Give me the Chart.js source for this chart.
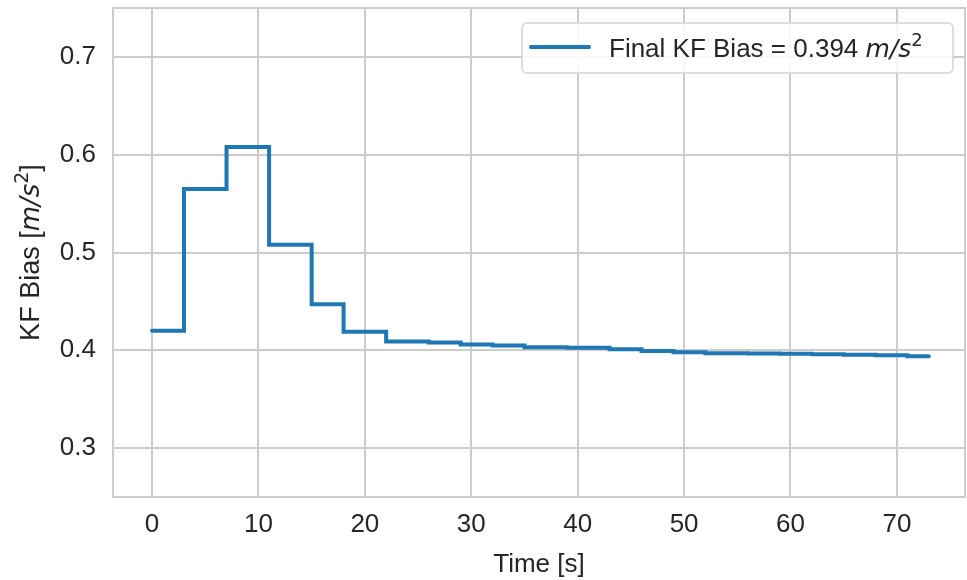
<!DOCTYPE html>
<html>
<head>
<meta charset="utf-8">
<script src="https://cdn.jsdelivr.net/npm/chart.js@4.4.1/dist/chart.umd.min.js"></script>
<style>
  html, body { margin: 0; padding: 0; background: #ffffff; }
  #wrap { width: 967px; height: 580px; position: relative; }
</style>
</head>
<body>
<div id="wrap"><canvas id="biasChart" width="967" height="580"></canvas></div>
<script>
// ---- data ----
const times = [0, 3, 7, 11, 15, 18, 22, 26, 29, 32, 35, 39, 43, 46, 49, 52, 56, 59, 62, 65, 68, 71, 73];
const bias  = [0.420, 0.565, 0.608, 0.508, 0.447, 0.419, 0.409, 0.408, 0.406, 0.405, 0.403, 0.4027,
               0.401, 0.3993, 0.398, 0.397, 0.3968, 0.3965, 0.396, 0.3955, 0.395, 0.394, 0.394];
const xTicks = [0, 10, 20, 30, 40, 50, 60, 70];
const yTicks = [0.3, 0.4, 0.5, 0.6, 0.7];

const finalBias = 0.394;
const textColor = '#262626';
const gridColor = '#cccccc';
const lineColor = '#1f77b4';
const sans = "'Liberation Sans', Arial, sans-serif";
const mathFont = "'DejaVu Sans', sans-serif";

// draw "prefix m/s^2 suffix" with italic units and a raised 2
function drawUnitText(ctx, x, y, prefix, suffix, size) {
  const parts = [
    { t: prefix, f: size + 'px ' + sans, dy: 0 },
    { t: 'm/s', f: 'italic ' + (size - 1) + 'px ' + mathFont, dy: 0 },
    { t: '2', f: Math.round(size * 0.7) + 'px ' + mathFont, dy: -size * 0.42 },
    { t: suffix, f: size + 'px ' + sans, dy: 0 }
  ];
  let w = 0;
  parts.forEach(p => { ctx.font = p.f; p.w = ctx.measureText(p.t).width; w += p.w; });
  return {
    width: w,
    draw(startX) {
      let cx = startX;
      ctx.textBaseline = 'alphabetic';
      ctx.textAlign = 'left';
      parts.forEach(p => {
        ctx.font = p.f;
        ctx.fillText(p.t, cx, y + p.dy);
        cx += p.w;
      });
    }
  };
}

// frame around the plot area (light spines on all four sides)
const framePlugin = {
  id: 'frame',
  beforeDatasetsDraw(chart) {
    const a = chart.chartArea, ctx = chart.ctx;
    ctx.save();
    ctx.strokeStyle = gridColor;
    ctx.lineWidth = 2;
    ctx.strokeRect(a.left, a.top, a.right - a.left, a.bottom - a.top);
    ctx.restore();
  }
};

// y axis title with math-style units
const yTitlePlugin = {
  id: 'yTitle',
  afterDraw(chart) {
    const a = chart.chartArea, ctx = chart.ctx;
    ctx.save();
    ctx.fillStyle = textColor;
    ctx.translate(39, (a.top + a.bottom) / 2);
    ctx.rotate(-Math.PI / 2);
    const t = drawUnitText(ctx, 0, 0, 'KF Bias [', ']', 27);
    t.draw(-t.width / 2);
    ctx.restore();
  }
};

// legend box in the upper right
const legendPlugin = {
  id: 'boxLegend',
  afterDraw(chart) {
    const ctx = chart.ctx;
    const bx = 522, by = 23, bw = 431, bh = 50, r = 5;
    ctx.save();
    ctx.beginPath();
    ctx.roundRect(bx, by, bw, bh, r);
    ctx.fillStyle = 'rgba(255,255,255,0.85)';
    ctx.fill();
    ctx.strokeStyle = '#d5d5d5';
    ctx.lineWidth = 1.5;
    ctx.stroke();
    ctx.beginPath();
    ctx.moveTo(531, 47);
    ctx.lineTo(589, 47);
    ctx.strokeStyle = lineColor;
    ctx.lineWidth = 4;
    ctx.lineCap = 'round';
    ctx.stroke();
    ctx.fillStyle = textColor;
    const t = drawUnitText(ctx, 0, 57, 'Final KF Bias = ' + finalBias.toFixed(3) + ' ', '', 26);
    t.draw(609);
    ctx.restore();
  }
};

new Chart(document.getElementById('biasChart').getContext('2d'), {
  type: 'line',
  data: {
    datasets: [{
      label: 'Final KF Bias',
      data: times.map((t, i) => ({ x: t, y: bias[i] })),
      borderColor: lineColor,
      borderWidth: 4,
      stepped: 'before',
      pointRadius: 0,
      fill: false,
      borderCapStyle: 'round'
    }]
  },
  options: {
    responsive: false,
    animation: false,
    layout: { padding: { top: 8, right: 2, left: 0, bottom: 0 } },
    plugins: {
      legend: { display: false },
      tooltip: { enabled: false }
    },
    scales: {
      x: {
        type: 'linear',
        min: -3.67,
        max: 76.4,
        afterBuildTicks: s => { s.ticks = xTicks.map(v => ({ value: v })); },
        afterFit: s => { s.height = 83; s.paddingLeft = 0; s.paddingRight = 0; },
        grid: { color: gridColor, lineWidth: 2, drawTicks: false },
        border: { display: false },
        ticks: { color: textColor, font: { family: sans, size: 26 }, padding: 12 },
        title: { display: true, text: 'Time [s]', color: textColor, font: { family: sans, size: 26 }, padding: { top: 2, bottom: 0 } }
      },
      y: {
        min: 0.25,
        max: 0.75,
        afterBuildTicks: s => { s.ticks = yTicks.map(v => ({ value: v })); },
        afterFit: s => { s.width = 113; s.paddingTop = 0; s.paddingBottom = 0; },
        grid: { color: gridColor, lineWidth: 2, drawTicks: false },
        border: { display: false },
        ticks: { color: textColor, font: { family: sans, size: 26 }, padding: 17, callback: v => v.toFixed(1) }
      }
    }
  },
  plugins: [framePlugin, yTitlePlugin, legendPlugin]
});
</script>
</body>
</html>
